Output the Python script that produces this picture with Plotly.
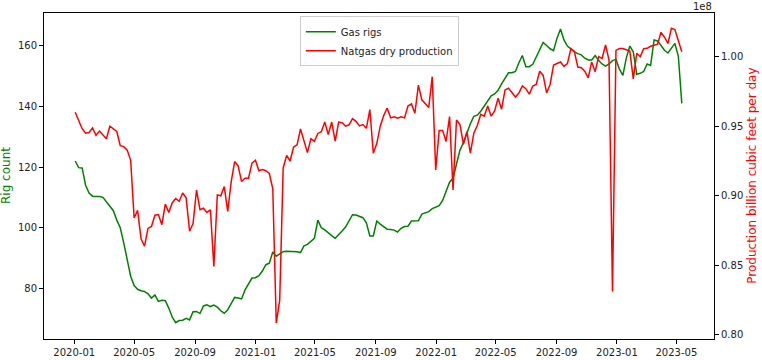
import pandas as pd
import plotly.graph_objects as go

start_date = "2020-01-03"

gas_rigs = [122, 119.8, 119.7, 114, 111.4, 110.4, 110.3, 110.3, 110, 108.5,
    107, 105.6, 102.5, 100, 95, 89.5, 84, 80.9, 79.7, 79.2,
    79, 78.2, 76.8, 77.8, 75.7, 76.1, 75.9, 73.5, 70.5, 68.7,
    69.4, 69.5, 70.1, 69.6, 72.3, 72.4, 71.7, 74.2, 74.6, 74,
    74.5, 73.8, 72.6, 71.8, 72.9, 75, 77, 76.8, 76.5, 79.5,
    81.7, 83.4, 83.5, 84.2, 85.7, 87.8, 88.3, 92, 90.6, 91.5,
    92.1, 92.2, 92.2, 92.2, 92.1, 91.8, 94, 94.5, 95.4, 96.5,
    102.5, 100, 99.3, 98.5, 97.4, 96.5, 97.6, 98.9, 100.2, 102.3,
    104.3, 104.2, 103.8, 103.3, 101.6, 97.3, 97.3, 102.2, 101.2, 100.3,
    99.5, 99.4, 99.2, 98.6, 99.8, 100.4, 100.5, 102.2, 102.3, 102.3,
    104.5, 105, 105.3, 106.3, 106.7, 107.3, 109, 112, 115, 116.3,
    121, 125.6, 128, 131.3, 134.3, 136.7, 137.1, 138.4, 140.2, 142,
    143.5, 144.1, 145.3, 147.4, 149.4, 151.1, 151.1, 151.5, 154.4, 156.8,
    153.1, 153.1, 153.9, 156.2, 158.7, 161.1, 160.1, 159, 158.4, 162.5,
    165.5, 161.9, 159.9, 158.8, 158, 157.4, 157, 155.9, 155.3, 155.3,
    156.8, 155.1, 154, 153.3, 154, 155.1, 155.5, 152.3, 150.2, 156,
    159.9, 158, 150.6, 150.9, 151.5, 154, 153.5, 161.9, 161.6, 160.1,
    158.5, 157.6, 159.2, 160.8, 156.5, 141]

# dry gas production, in units of 1e8 (axis offset shown as "1e8")
production_1e8 = [0.960, 0.954, 0.9482, 0.945, 0.9455, 0.9488, 0.9435, 0.9465, 0.944, 0.941,
    0.950, 0.9478, 0.9462, 0.936, 0.9353, 0.9328, 0.9255, 0.884, 0.8895, 0.869,
    0.8637, 0.8765, 0.8779, 0.886, 0.8865, 0.8792, 0.894, 0.888, 0.895, 0.898,
    0.896, 0.902, 0.8985, 0.8745, 0.880, 0.904, 0.890, 0.891, 0.888, 0.8899,
    0.8491, 0.9006, 0.900, 0.9066, 0.8887, 0.910, 0.9246, 0.9215, 0.9102, 0.9126,
    0.9126, 0.9234, 0.9255, 0.918, 0.9188, 0.918, 0.916, 0.905, 0.8085, 0.825,
    0.920, 0.929, 0.925, 0.935, 0.9366, 0.948, 0.9389, 0.931, 0.941, 0.9392,
    0.9448, 0.946, 0.953, 0.944, 0.953, 0.9392, 0.953, 0.9525, 0.950, 0.951,
    0.9555, 0.9535, 0.9502, 0.9512, 0.9485, 0.962, 0.9306, 0.9375, 0.950, 0.9577,
    0.963, 0.956, 0.9567, 0.9557, 0.9568, 0.956, 0.9645, 0.966, 0.9593, 0.9795,
    0.969, 0.966, 0.9635, 0.9856, 0.9186, 0.947, 0.947, 0.939, 0.9569, 0.9042,
    0.9545, 0.9512, 0.937, 0.9461, 0.9306, 0.945, 0.9505, 0.9585, 0.9572, 0.9646,
    0.9572, 0.961, 0.9701, 0.9622, 0.9761, 0.9773, 0.9745, 0.971, 0.9738, 0.979,
    0.977, 0.973, 0.9788, 0.980, 0.9895, 0.9865, 0.974, 0.980, 0.994, 0.9953,
    0.9962, 0.993, 0.995, 1.0058, 1.0038, 0.9925, 0.992, 0.9895, 0.9848, 0.9962,
    0.9892, 1.000, 0.9988, 1.0084, 0.9976, 0.8312, 1.0045, 1.0058, 1.0058, 1.005,
    1.004, 0.984, 1.0024, 1.000, 1.0058, 1.006, 1.0075, 1.0082, 1.009, 1.0175,
    1.014, 1.0095, 1.0205, 1.0195, 1.011, 1.0036]

dates = pd.date_range(start_date, periods=len(gas_rigs), freq="7D")

left_ticks = [80, 100, 120, 140, 160]
right_ticks = [0.80, 0.85, 0.90, 0.95, 1.00]
right_tick_labels = ["0.80", "0.85", "0.90", "0.95", "1.00"]

left_title = "Rig count"
right_title = "Production billion cubic feet per day"
offset_label = "1e8"

FONT = "DejaVu Sans"

fig = go.Figure()
fig.add_trace(go.Scatter(x=dates, y=gas_rigs, mode="lines", name="Gas rigs",
                         line=dict(color="green", width=1.5), yaxis="y"))
fig.add_trace(go.Scatter(x=dates, y=production_1e8, mode="lines",
                         name="Natgas dry production",
                         line=dict(color="red", width=1.5), yaxis="y2"))

axis_common = dict(showgrid=False, zeroline=False, showline=True, linecolor="black",
                   linewidth=1, ticks="outside", ticklen=4, tickcolor="black",
                   tickfont=dict(family=FONT, size=10, color="#222"))

fig.update_layout(
    width=762, height=360,
    margin=dict(l=44, r=48, t=13, b=21, autoexpand=False),
    paper_bgcolor="white", plot_bgcolor="white",
    font=dict(family=FONT, size=10, color="#222"),
    xaxis=dict(**axis_common, mirror=True, type="date",
               range=["2019-11-01", "2023-07-16"],
               tick0="2020-01-01", dtick="M4", tickformat="%Y-%m",
               automargin=False),
    yaxis=dict(**axis_common, range=[63.3, 170.8], tickvals=left_ticks,
               automargin=False),
    yaxis2=dict(**axis_common, range=[0.797, 1.0314], overlaying="y", side="right",
                tickvals=right_ticks, ticktext=right_tick_labels,
                automargin=False),
    legend=dict(x=0.5005, y=0.99, xanchor="center", yanchor="top",
                bgcolor="rgba(255,255,255,0.8)", bordercolor="#cccccc", borderwidth=1,
                font=dict(family=FONT, size=10, color="#222"), itemwidth=30,
                tracegroupgap=0),
    showlegend=True,
    annotations=[
        dict(text=offset_label, xref="paper", yref="paper", x=1.0, y=1.0,
             xanchor="right", yanchor="bottom", showarrow=False,
             font=dict(family=FONT, size=10, color="#222"), yshift=-1),
        dict(text=left_title, xref="paper", yref="paper", x=-0.0567, y=0.5,
             xanchor="center", yanchor="middle", textangle=-90, showarrow=False,
             font=dict(family=FONT, size=12, color="green")),
        dict(text=right_title, xref="paper", yref="paper", x=1.0563, y=0.5,
             xanchor="center", yanchor="middle", textangle=-90, showarrow=False,
             font=dict(family=FONT, size=12, color="red")),
    ],
)

fig.write_html("out.html", config={"displayModeBar": False},
               post_script="document.body.style.margin='0';")
